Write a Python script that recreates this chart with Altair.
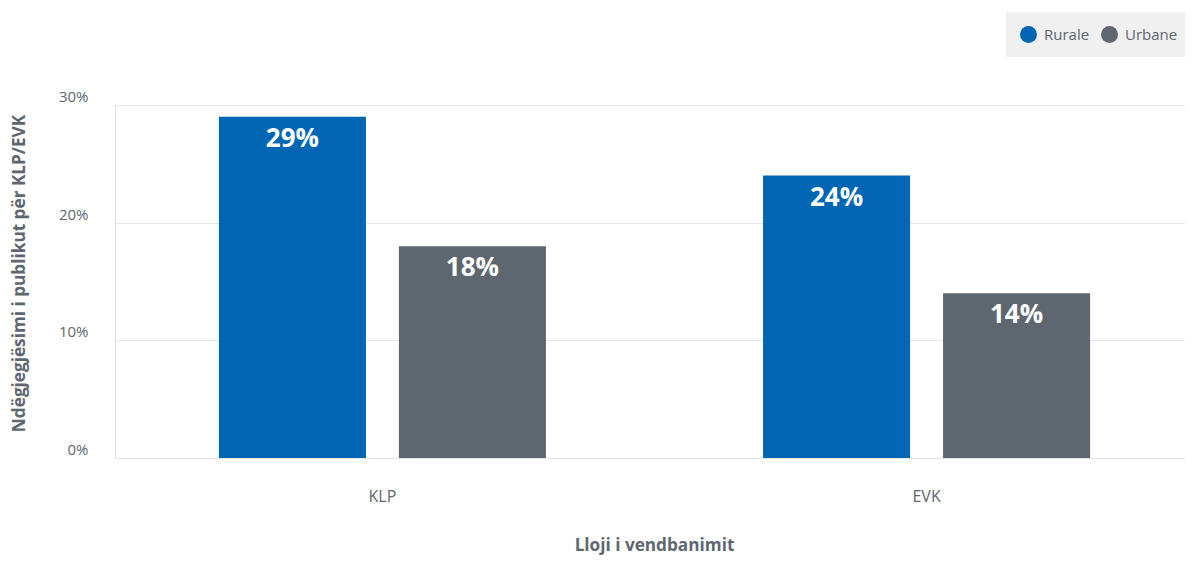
import altair as alt
import pandas as pd

categories = ["KLP", "KLP", "EVK", "EVK"]
groups = ["Rurale", "Urbane", "Rurale", "Urbane"]
values = [29, 18, 24, 14]
labels = ["29%", "18%", "24%", "14%"]

df = pd.DataFrame({"cat": categories, "grp": groups, "val": values, "lbl": labels})

FONT = "Open Sans"
TXT = "#5e6670"

color = alt.Color(
    "grp:N",
    scale=alt.Scale(domain=["Rurale", "Urbane"], range=["#0066b3", "#5e6670"]),
    legend=alt.Legend(
        title=None,
        orient="none",
        direction="horizontal",
        legendX=891,
        legendY=-93,
        fillColor="#f0f0f0",
        padding=14,
        symbolType="circle",
        symbolSize=289,
        symbolStrokeWidth=0,
        labelFont=FONT,
        labelFontSize=15,
        labelColor=TXT,
        labelOffset=7,
        columnPadding=11,
    ),
)

x = alt.X(
    "cat:N",
    sort=["KLP", "EVK"],
    scale=alt.Scale(paddingInner=0.399, paddingOuter=0.191, range=[0, 1079]),
    axis=alt.Axis(
        title="Lloji i vendbanimit",
        titleFont=FONT,
        titleFontSize=17.2,
        titleFontWeight="bold",
        titleColor=TXT,
        titleX=539,
        titleY=92,
        titleBaseline="alphabetic",
        labelFont=FONT,
        labelFontSize=16,
        labelColor=TXT,
        labelPadding=30.5,
        labelAngle=0,
        ticks=False,
        domain=False,
    ),
)
xo = alt.XOffset("grp:N", scale=alt.Scale(paddingInner=0.183, paddingOuter=0))
y = alt.Y(
    "val:Q",
    scale=alt.Scale(domain=[0, 30]),
    axis=alt.Axis(
        title="Ndëgjegjësimi i publikut për KLP/EVK",
        titleFont=FONT,
        titleFontSize=17.2,
        titleFontWeight="bold",
        titleColor=TXT,
        titleX=-96,
        titleY=168,
        titleBaseline="middle",
        titleAlign="center",
        values=[0, 10, 20, 30],
        labelExpr="datum.value + '%'",
        labelFont=FONT,
        labelFontSize=15,
        labelColor=TXT,
        labelPadding=27,
        labelBaseline="middle",
        labelOffset=-8.5,
        ticks=False,
        domain=False,
        gridColor="#e6e6e6",
    ),
)

bars = alt.Chart(df).mark_bar().encode(x=x, xOffset=xo, y=y, color=color)
text = alt.Chart(df).mark_text(
    baseline="top", dy=9, font=FONT, fontSize=26, fontWeight="bold", color="white"
).encode(x=x, xOffset=xo, y=y, text="lbl:N")

chart = (
    alt.layer(bars, text)
    .properties(
        width=1070,
        height=353,
        autosize=alt.AutoSizeParams(type="none"),
        padding={"left": 107, "top": 97, "right": 0, "bottom": 97},
    )
    .configure_view(stroke=None)
    .configure(background="white")
)

chart.save("out.html", embed_options={"renderer": "svg", "actions": False})
